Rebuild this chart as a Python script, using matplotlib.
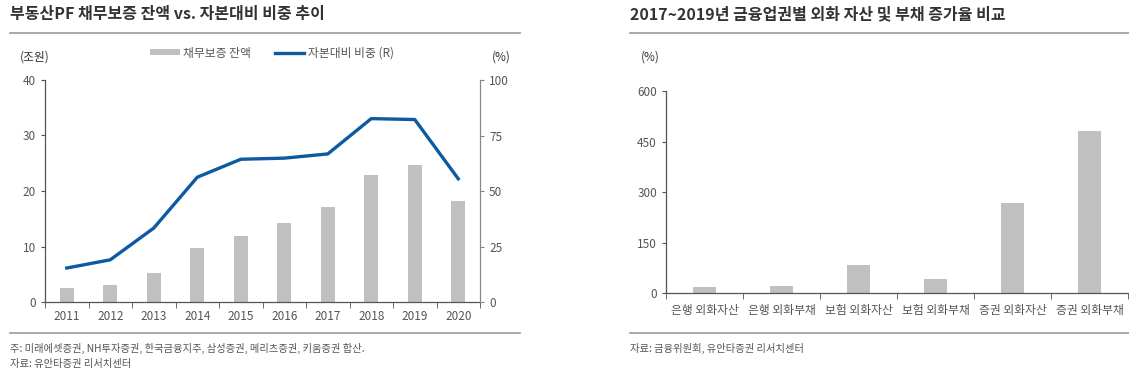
import numpy as np
import matplotlib
matplotlib.use('Agg')
import matplotlib.pyplot as plt
from matplotlib.lines import Line2D

plt.rcParams['font.family'] = ['Noto Sans CJK KR', 'DejaVu Sans']

# left chart data
years = ['2011', '2012', '2013', '2014', '2015', '2016', '2017', '2018', '2019', '2020']
guarantee = [2.5, 3.1, 5.2, 9.65, 11.9, 14.3, 17.2, 22.9, 24.7, 18.2]     # 조원
ratio = [15.3, 19.0, 33.3, 56.2, 64.3, 64.8, 66.7, 82.6, 82.2, 55.5]       # %

# right chart data
sectors = ['은행 외화자산', '은행 외화부채', '보험 외화자산', '보험 외화부채', '증권 외화자산', '증권 외화부채']
growth = [17.8, 20.8, 85, 41.5, 268, 481]

BAR = '#c0c0c0'
BLUE = '#0e5aa0'
AXC = '#555555'
TXT = '#555555'
W, H = 1129, 376


def fx(px): return px / W
def fy(py): return 1 - py / H


def style_ax(ax, n, pad=6):
    ax.spines['top'].set_visible(False)
    for s in ['left', 'bottom', 'right']:
        ax.spines[s].set_color(AXC)
        ax.spines[s].set_linewidth(0.9)
    ax.set_xlim(-0.5, n - 0.5)
    ax.set_xticks(np.arange(n))
    ax.tick_params(axis='x', length=0, pad=pad, labelsize=8.5, labelcolor=TXT)
    # tick marks sit between categories
    ax.set_xticks(np.arange(n + 1) - 0.5, minor=True)
    ax.tick_params(axis='x', which='minor', length=4, direction='out', color=AXC)
    ax.tick_params(axis='y', length=3, direction='out', color=AXC, labelsize=8.5, labelcolor=TXT)


fig = plt.figure(figsize=(W / 100, H / 100), dpi=100)

# ---- left chart
ax1 = fig.add_axes([fx(45), fy(302), fx(480 - 45), (302 - 80) / H])
x = np.arange(len(years))
bars = ax1.bar(x, guarantee, width=0.32, color=BAR, label='채무보증 잔액', zorder=2)
ax1.set_ylim(0, 40)
ax1.set_yticks([0, 10, 20, 30, 40])
ax1.set_xticklabels(years)
style_ax(ax1, len(years))
ax1.spines['right'].set_visible(False)

ax2 = ax1.twinx()
line, = ax2.plot(x, ratio, color=BLUE, lw=2.4, label='자본대비 비중 (R)', zorder=3,
                 solid_joinstyle='round')
ax2.set_ylim(0, 100)
ax2.set_yticks([0, 25, 50, 75, 100])
for s in ['top', 'left', 'bottom']:
    ax2.spines[s].set_visible(False)
ax2.spines['right'].set_color('#888888')
ax2.spines['right'].set_linewidth(0.9)
ax2.tick_params(axis='y', length=3, direction='out', color='#888888', labelsize=8.5, labelcolor=TXT)

fig.legend([bars, line], ['채무보증 잔액', '자본대비 비중 (R)'], ncol=2, frameon=False,
           loc='center', bbox_to_anchor=(fx(272), fy(53)), fontsize=8.5, labelcolor=TXT,
           handlelength=2.5, handleheight=0.4, handletextpad=0.3, columnspacing=2.0)

fig.text(fx(35), fy(57), '(조원)', ha='center', va='center', fontsize=8.5, color='#333333')
fig.text(fx(501), fy(57), '(%)', ha='center', va='center', fontsize=8.5, color='#333333')

# ---- right chart
ax3 = fig.add_axes([fx(666), fy(293.3), fx(1128 - 666), (293.3 - 91) / H])
xs = np.arange(len(sectors))
ax3.bar(xs, growth, width=0.31, color=BAR, zorder=2)
ax3.set_ylim(0, 600)
ax3.set_yticks([0, 150, 300, 450, 600])
ax3.set_xticklabels(sectors)
style_ax(ax3, len(sectors), pad=8)
ax3.spines['right'].set_visible(False)

fig.text(fx(650), fy(57), '(%)', ha='center', va='center', fontsize=8.5, color='#333333')

# ---- titles, rules, notes
fig.text(fx(10), fy(14), '부동산PF 채무보증 잔액 vs. 자본대비 비중 추이', ha='left', va='center',
         fontsize=11.5, fontweight='bold', color='#333333')
fig.text(fx(630), fy(14), '2017~2019년 금융업권별 외화 자산 및 부채 증가율 비교', ha='left', va='center',
         fontsize=11.5, fontweight='bold', color='#333333')

for x0, x1 in [(10, 520), (630, 1129)]:
    for yy in (32.7, 332.5):
        fig.add_artist(Line2D([fx(x0), fx(x1)], [fy(yy), fy(yy)], color='#999999', lw=1.2))

fig.text(fx(10), fy(348), '주: 미래에셋증권, NH투자증권, 한국금융지주, 삼성증권, 메리츠증권, 키움증권 합산.',
         ha='left', va='center', fontsize=7.4, color=TXT)
fig.text(fx(10), fy(364), '자료: 유안타증권 리서치센터', ha='left', va='center', fontsize=7.4, color=TXT)
fig.text(fx(630), fy(348), '자료: 금융위원회, 유안타증권 리서치센터', ha='left', va='center', fontsize=7.4, color=TXT)

fig.savefig('out.png', dpi=100, facecolor='white')
